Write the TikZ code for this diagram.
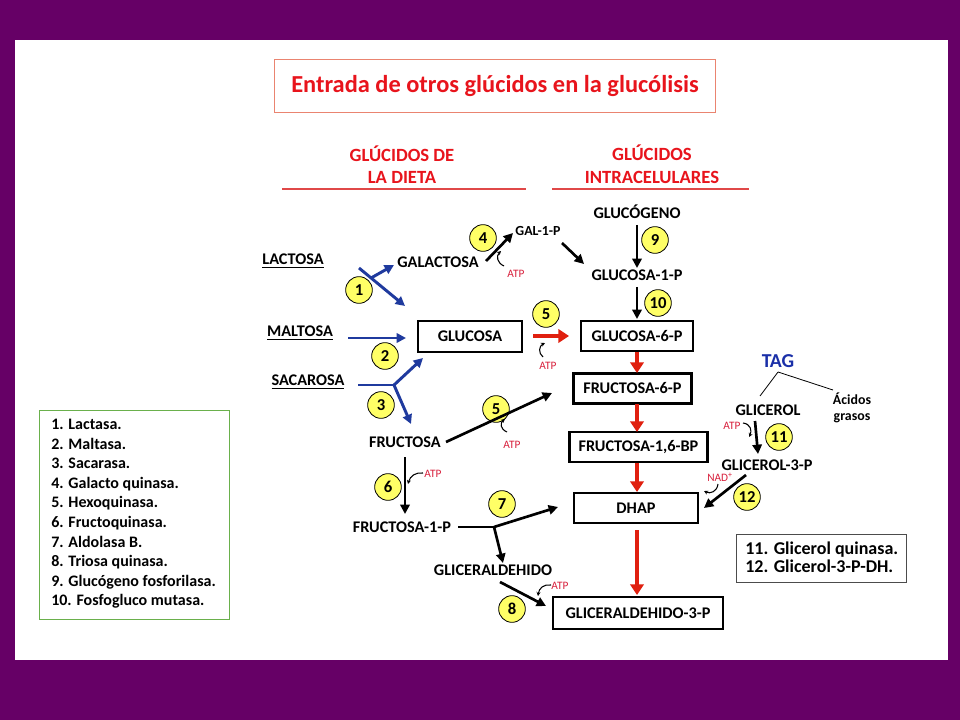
\documentclass[tikz,border=0pt]{standalone}
\usepackage{fontspec}
\setmainfont{Carlito}
\usetikzlibrary{arrows.meta}
\definecolor{bgpurple}{HTML}{660066}
\definecolor{titlered}{HTML}{E8141C}
\definecolor{boxsalmon}{HTML}{EA8470}
\definecolor{hlred}{HTML}{E04848}
\definecolor{dblue}{HTML}{1F3A9E}
\definecolor{atpred}{HTML}{D8203C}
\definecolor{circfill}{HTML}{FFFF66}
\definecolor{legendgreen}{HTML}{6AB04C}
\definecolor{arrred}{HTML}{E0200F}
\definecolor{taglblue}{HTML}{1A2FA8}
\begin{document}
\begin{tikzpicture}[x=0.75pt,y=-0.75pt,
  lbl/.style={font=\bfseries\fontsize{12.2}{14}\selectfont, inner sep=1pt},
  smlbl/.style={font=\bfseries\fontsize{10.4}{12}\selectfont, inner sep=1pt},
  pbox/.style={lbl, draw, line width=2.2pt, inner sep=0pt},
  circ/.style={circle, draw, fill=circfill, line width=0.6pt, minimum size=20pt, inner sep=0pt, font=\bfseries\fontsize{12.5}{13}\selectfont},
  barr/.style={draw=dblue, line width=2.2pt, -{Triangle[length=7pt,width=7pt]}},
  bline/.style={draw=dblue, line width=2.2pt},
  karr/.style={draw=black, line width=2pt, -{Triangle[length=7pt,width=7pt]}},
  kline/.style={draw=black, line width=2pt},
  rarr/.style={draw=arrred, line width=3.6pt, -{Triangle[length=8pt,width=10pt]}},
  hookarr/.style={draw=black, line width=0.8pt, -{Stealth[length=3pt,width=3pt]}},
  atp/.style={text=atpred, font=\fontsize{8.5}{9}\selectfont, inner sep=0pt},
  head/.style={text=titlered, font=\bfseries\fontsize{14}{17}\selectfont, align=center},
  hline/.style={draw=hlred, line width=0.9pt},
  legtext/.style={font=\bfseries\fontsize{12}{14.67}\selectfont, align=left, inner sep=0pt}
]
\useasboundingbox (0,0) rectangle (960,720);
\fill[bgpurple] (0,0) rectangle (960,720);
\fill[white] (15,40) rectangle (948,660);

% title
\node[draw=boxsalmon, line width=0.9pt, minimum width=330.75pt, minimum height=39.75pt, text=titlered, font=\bfseries\fontsize{18.3}{20}\selectfont] (title) at (495,86) {Entrada de otros glúcidos en la glucólisis};

% headings
\node[head] (hdiet) at (402,164.5) {GLÚCIDOS DE\\LA DIETA};
\node[head] (hintra) at (652,164.5) {GLÚCIDOS\\INTRACELULARES};
\coordinate (ul1) at (282,189); \coordinate (ul2) at (526,189);
\coordinate (ur1) at (552,189); \coordinate (ur2) at (749,189);
\draw[hline] (ul1) -- (ul2);
\draw[hline] (ur1) -- (ur2);

% labels
\node[lbl] (lactosa) at (293,261) {\underline{LACTOSA}};
\node[lbl] (galactosa) at (438,262) {GALACTOSA};
\node[smlbl] (gal1p) at (538,231) {GAL-1-P};
\node[lbl] (maltosa) at (300,333) {\underline{MALTOSA}};
\node[lbl] (sacarosa) at (308,382) {\underline{SACAROSA}};
\node[lbl] (fructosa) at (405,442) {FRUCTOSA};
\node[lbl] (fru1p) at (402,527) {FRUCTOSA-1-P};
\node[lbl] (gliceral) at (493,570) {GLICERALDEHIDO};
\node[lbl] (glucogeno) at (637,212) {GLUCÓGENO};
\node[lbl] (glu1p) at (637,275) {GLUCOSA-1-P};
\node[text=taglblue, font=\bfseries\fontsize{14.8}{16}\selectfont, inner sep=1pt] (tag) at (778,361) {TAG};
\node[lbl] (glicerol) at (768,410) {GLICEROL};
\node[lbl] (gly3p) at (767,465) {GLICEROL-3-P};
\node[font=\bfseries\fontsize{10.4}{12}\selectfont, align=center, inner sep=0pt] (acidos) at (852,408) {Ácidos\\grasos};

% boxes
\node[pbox, minimum width=78pt, minimum height=23.25pt] (glucosa) at (470,336.5) {GLUCOSA};
\node[pbox, minimum width=84pt, minimum height=22.5pt] (g6p) at (637,336) {GLUCOSA-6-P};
\node[pbox, minimum width=89pt, minimum height=22pt] (f6p) at (632.5,388.5) {FRUCTOSA-6-P};
\node[pbox, minimum width=103pt, minimum height=22.5pt] (f16bp) at (638.5,447) {FRUCTOSA-1,6-BP};
\node[pbox, minimum width=93pt, minimum height=22.5pt] (dhap) at (636,508) {DHAP};
\node[pbox, minimum width=127.5pt, minimum height=24pt] (g3p) at (638,613) {GLICERALDEHIDO-3-P};

% circles
\node[circ] (c1) at (359,290) {1};
\node[circ] (c2) at (385,356) {2};
\node[circ] (c3) at (381,405) {3};
\node[circ] (c4) at (483,238) {4};
\node[circ] (c5a) at (546,314) {5};
\node[circ] (c5b) at (496,409) {5};
\node[circ] (c6) at (388,487) {6};
\node[circ] (c7) at (502,504) {7};
\node[circ] (c8) at (512,609) {8};
\node[circ] (c9) at (655,240) {9};
\node[circ] (c10) at (658,303) {10};
\node[circ] (c11) at (779,437) {11};
\node[circ] (c12) at (747,497) {12};

% lactosa
\coordinate (l1s) at (359,268); \coordinate (l1e) at (405,306);
\coordinate (l1b) at (371,278); \coordinate (l1u) at (394,265);
\draw[barr] (l1s) -- (l1e);
\draw[barr] (l1b) -- (l1u);
% maltosa
\coordinate (m1s) at (348,338); \coordinate (m1e) at (406,338);
\draw[barr] (m1s) -- (m1e);
% sacarosa
\coordinate (s1s) at (358,385); \coordinate (s1j) at (394,385);
\coordinate (s1u) at (423,358); \coordinate (s1d) at (411,424);
\draw[bline] (s1s) -- (s1j);
\draw[barr] (s1j) -- (s1u);
\draw[barr] (s1j) -- (s1d);

% galactosa -> gal-1-p
\coordinate (ga1) at (486,261); \coordinate (ga2) at (513,233);
\draw[karr] (ga1) -- (ga2);
\node[atp] (atp4) at (516,274) {ATP};
\coordinate (h4a) at (504,266); \coordinate (h4b) at (501,251);
\draw[hookarr] (h4a) .. controls (497,263) and (496,256) .. (h4b);
% gal-1-p -> glucosa-1-p
\coordinate (gp1) at (562,243); \coordinate (gp2) at (584,264);
\draw[karr] (gp1) -- (gp2);
% glucogeno -> glu1p
\coordinate (gg1) at (637,225); \coordinate (gg2) at (637,268);
\draw[karr] (gg1) -- (gg2);
% glu1p -> g6p
\coordinate (gq1) at (637,287); \coordinate (gq2) at (637,319);
\draw[karr] (gq1) -- (gq2);
% glucosa -> g6p
\coordinate (r5a) at (533,336); \coordinate (r5b) at (569,336);
\draw[rarr] (r5a) -- (r5b);
\node[atp] (atp5a) at (548,366) {ATP};
\coordinate (h5a) at (543,357); \coordinate (h5b) at (545,343);
\draw[hookarr] (h5a) .. controls (538,353) and (539,346) .. (h5b);

% red main line
\coordinate (rv1a) at (637,352); \coordinate (rv1b) at (637,373);
\coordinate (rv2a) at (637,404); \coordinate (rv2b) at (637,432);
\coordinate (rv3a) at (637,463); \coordinate (rv3b) at (637,492);
\coordinate (rv4a) at (637,530); \coordinate (rv4b) at (637,595);
\draw[rarr] (rv1a) -- (rv1b);
\draw[rarr] (rv2a) -- (rv2b);
\draw[rarr] (rv3a) -- (rv3b);
\draw[rarr] (rv4a) -- (rv4b);

% fructosa -> f6p
\coordinate (fr1) at (446,442); \coordinate (fr2) at (552,393);
\draw[karr] (fr1) -- (fr2);
\node[atp] (atp5b) at (512,445) {ATP};
\coordinate (h5c) at (507,432); \coordinate (h5d) at (505,419);
\draw[hookarr] (h5c) .. controls (500,429) and (500,423) .. (h5d);

% fructosa -> fru1p
\coordinate (f6a) at (405,457); \coordinate (f6b) at (405,514);
\draw[karr] (f6a) -- (f6b);
\node[atp] (atp6) at (433,474) {ATP};
\coordinate (h6a) at (423,473); \coordinate (h6b) at (408,484);
\draw[hookarr] (h6a) .. controls (416,472) and (410,476) .. (h6b);

% fru1p -> dhap / gliceraldehido
\coordinate (f7s) at (458,527); \coordinate (f7j) at (494,527);
\coordinate (f7u) at (558,507); \coordinate (f7d) at (503,563);
\draw[kline] (f7s) -- (f7j);
\draw[karr] (f7j) -- (f7u);
\draw[karr] (f7j) -- (f7d);

% gliceraldehido -> g3p
\coordinate (g8a) at (500,582); \coordinate (g8b) at (546,606);
\draw[karr] (g8a) -- (g8b);
\node[atp] (atp8) at (560,586) {ATP};
\coordinate (h8a) at (551,585); \coordinate (h8b) at (538,596);
\draw[hookarr] (h8a) .. controls (544,584) and (539,588) .. (h8b);

% TAG
\coordinate (tg0) at (778,372); \coordinate (tg1) at (760,396); \coordinate (tg2) at (833,390);
\draw[line width=0.6pt] (tg0) -- (tg1);
\draw[line width=0.6pt] (tg0) -- (tg2);

% glicerol -> gly3p
\coordinate (gl1) at (755,421); \coordinate (gl2) at (758,454);
\draw[karr] (gl1) -- (gl2);
\node[atp] (atp11) at (732,426) {ATP};
\coordinate (h11a) at (743,423); \coordinate (h11b) at (749,437);
\draw[hookarr] (h11a) .. controls (751,424) and (752,431) .. (h11b);

% gly3p -> dhap
\coordinate (gd1) at (746,475); \coordinate (gd2) at (704,508);
\draw[karr] (gd1) -- (gd2);
\node[atp] (nad) at (720,477) {NAD\textsuperscript{+}};
\coordinate (h12a) at (718,484); \coordinate (h12b) at (704,491);
\draw[hookarr] (h12a) .. controls (717,492) and (710,494) .. (h12b);

% legends
\node[draw=legendgreen, line width=0.9pt, minimum width=142.5pt, minimum height=156.75pt, anchor=north west, inner sep=0pt] (legA) at (39,410) {};
\node[legtext, anchor=north west] (legAt) at (51,419) {1. Lactasa.\\2. Maltasa.\\3. Sacarasa.\\4. Galacto quinasa.\\5. Hexoquinasa.\\6. Fructoquinasa.\\7. Aldolasa B.\\8. Triosa quinasa.\\9. Glucógeno fosforilasa.\\10. Fosfogluco mutasa.};
\node[draw=black!70, line width=0.7pt, minimum width=127.5pt, minimum height=36pt, anchor=north west, inner sep=0pt] (legB) at (736,534) {};
\node[legtext, font=\bfseries\fontsize{13.5}{13.5}\selectfont, anchor=north west] (legBt) at (745,542) {11. Glicerol quinasa.\\12. Glicerol-3-P-DH.};
\end{tikzpicture}
\end{document}
